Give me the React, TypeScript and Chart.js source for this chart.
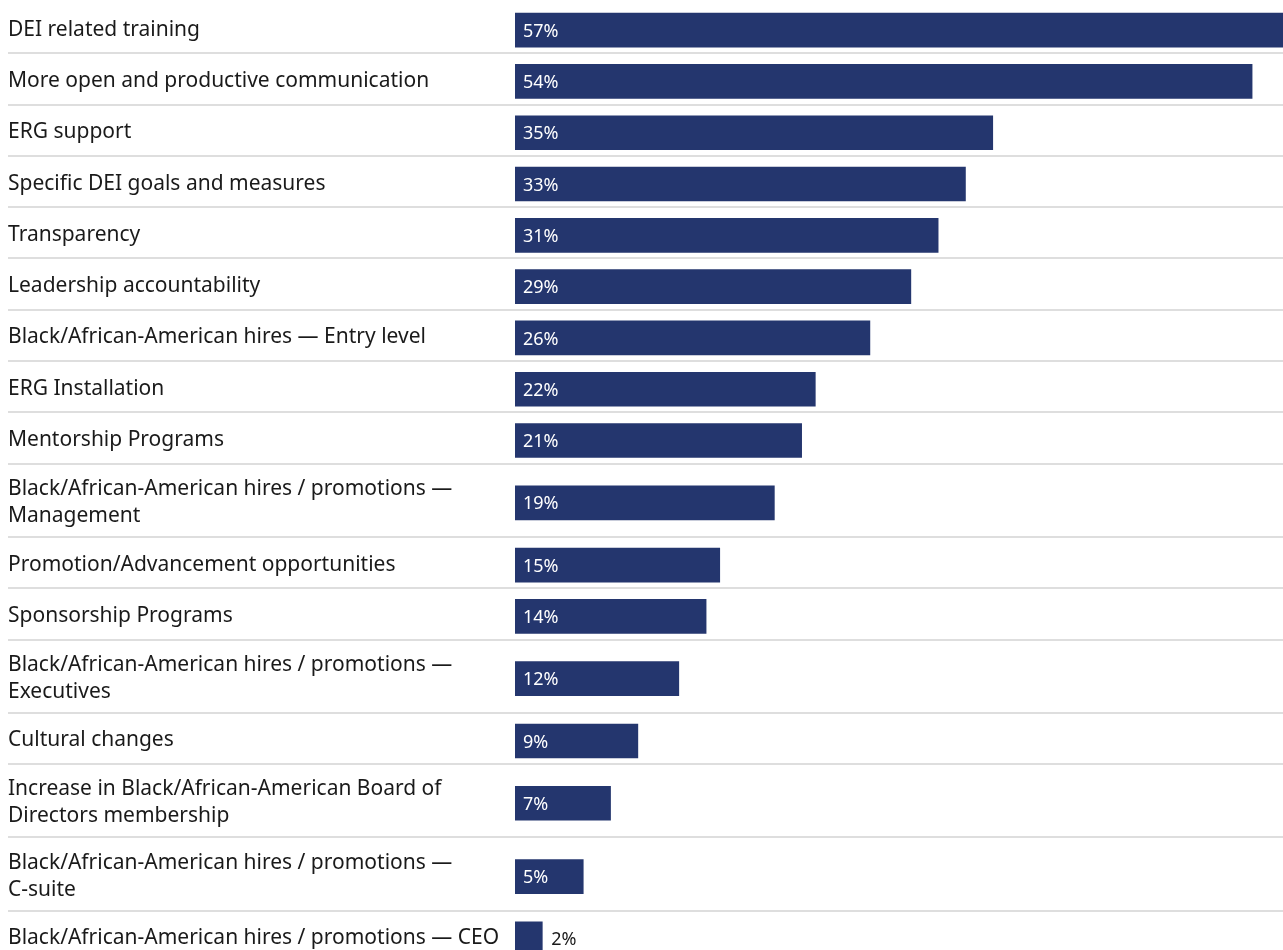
import React, { useEffect, useRef } from 'react';
import { Chart, registerables, CategoryScale } from 'chart.js';

Chart.register(...registerables);

const categories: (string | string[])[] = [
  'DEI related training',
  'More open and productive communication',
  'ERG support',
  'Specific DEI goals and measures',
  'Transparency',
  'Leadership accountability',
  'Black/African-American hires \u2014 Entry level',
  'ERG Installation',
  'Mentorship Programs',
  ['Black/African-American hires / promotions \u2014', 'Management'],
  'Promotion/Advancement opportunities',
  'Sponsorship Programs',
  ['Black/African-American hires / promotions \u2014', 'Executives'],
  'Cultural changes',
  ['Increase in Black/African-American Board of', 'Directors membership'],
  ['Black/African-American hires / promotions \u2014', 'C-suite'],
  'Black/African-American hires / promotions \u2014 CEO',
];

const values: number[] = [57, 54, 35, 33, 31, 29, 26, 22, 21, 19, 15, 14, 12, 9, 7, 5, 2];

const valueSuffix = '%';

const BAR_COLOR = '#24366e';
const TEXT_COLOR = '#1a1a1a';
const RULE_COLOR = '#dedede';
const FONT = '"Noto Sans", "Open Sans", sans-serif';
const LINE_PX = 22;
const ROW_PAD = 29.3;
const BAR_SHIFT = 2.5;
const TICK_SHIFT = 2;

// Category scale whose row heights follow the number of lines in each label
class RowScale extends CategoryScale {
  static id = 'rows';

  rowEdges(): number[] {
    const labels = (this as any).getLabels();
    const w = labels.map((l: any) => (Array.isArray(l) ? l.length : 1) * LINE_PX + ROW_PAD);
    const total = w.reduce((a: number, b: number) => a + b, 0);
    const top = (this as any).top;
    const k = ((this as any).bottom - top) / total;
    const edges = [top];
    let acc = top;
    for (const x of w) {
      acc += x * k;
      edges.push(acc);
    }
    return edges;
  }

  rowCenter(v: number) {
    const e = this.rowEdges();
    const i = Math.round(v);
    if (i < 0 || i >= e.length - 1) return NaN;
    return (e[i] + e[i + 1]) / 2;
  }

  getPixelForValue(value: any, index?: number) {
    let v = value;
    if (typeof v !== 'number') v = (this as any).parse(v, index);
    return this.rowCenter(v) + BAR_SHIFT;
  }

  getPixelForTick(index: number) {
    const ticks = (this as any).ticks;
    if (index < 0 || index > ticks.length - 1) return null as any;
    return this.rowCenter(ticks[index].value) + TICK_SHIFT;
  }
}
Chart.register(RowScale as any);

const rowRules = {
  id: 'rowRules',
  beforeDatasetsDraw(chart: any) {
    const scale = chart.scales.y;
    const edges: number[] = scale.rowEdges();
    const ctx = chart.ctx;
    ctx.save();
    ctx.fillStyle = RULE_COLOR;
    for (let i = 1; i < edges.length - 1; i++) {
      ctx.fillRect(8, Math.round(edges[i]) - 1, chart.width, 2);
    }
    ctx.restore();
  },
};

const valueLabels = {
  id: 'valueLabels',
  afterDatasetsDraw(chart: any) {
    const ctx = chart.ctx;
    const meta = chart.getDatasetMeta(0);
    ctx.save();
    ctx.font = `18px ${FONT}`;
    ctx.textBaseline = 'middle';
    ctx.textAlign = 'left';
    meta.data.forEach((bar: any, i: number) => {
      const text = `${values[i]}${valueSuffix}`;
      const tw = ctx.measureText(text).width;
      const y = bar.y + 1.5;
      if (bar.x - bar.base >= tw + 16) {
        ctx.fillStyle = '#ffffff';
        ctx.fillText(text, bar.base + 8, y);
      } else {
        ctx.fillStyle = TEXT_COLOR;
        ctx.fillText(text, bar.x + 9, y);
      }
    });
    ctx.restore();
  },
};

export default function App() {
  const ref = useRef<HTMLCanvasElement>(null);

  useEffect(() => {
    let chart: Chart | null = null;
    let cancelled = false;
    const build = () => {
      if (cancelled || !ref.current) return;
      chart = new Chart(ref.current, {
        type: 'bar',
        data: {
          labels: categories as any,
          datasets: [
            {
              data: values,
              backgroundColor: BAR_COLOR,
              borderWidth: 0,
              barThickness: 34,
            },
          ],
        },
        options: {
          indexAxis: 'y',
          animation: false,
          responsive: false,
          events: [],
          devicePixelRatio: 1,
          layout: { padding: { left: 8, top: 2, right: 0, bottom: 2 } },
          plugins: {
            legend: { display: false },
            tooltip: { enabled: false },
            title: { display: false },
          },
          scales: {
            x: {
              type: 'linear',
              min: 0,
              max: 60,
              display: false,
            },
            y: {
              type: 'rows' as any,
              grid: { display: false },
              border: { display: false },
              ticks: {
                autoSkip: false,
                crossAlign: 'far',
                color: TEXT_COLOR,
                font: { family: FONT, size: 21, lineHeight: '27px' },
              },
              afterFit: (s: any) => {
                s.width = 507;
                s.paddingTop = 0;
                s.paddingBottom = 0;
              },
            } as any,
          },
        },
        plugins: [rowRules, valueLabels],
      });
    };
    const fontsApi = (document as any).fonts;
    if (fontsApi && fontsApi.load) {
      Promise.all([fontsApi.load(`21px ${FONT}`), fontsApi.load(`18px ${FONT}`)])
        .catch(() => null)
        .then(build);
    } else {
      build();
    }
    return () => {
      cancelled = true;
      if (chart) chart.destroy();
    };
  }, []);

  return (
    <div
      style={{
        position: 'fixed',
        left: 0,
        top: 0,
        width: '100vw',
        height: '100vh',
        overflow: 'hidden',
        background: '#ffffff',
      }}
    >
      <canvas ref={ref} width={1334} height={964} style={{ display: 'block' }} />
    </div>
  );
}
